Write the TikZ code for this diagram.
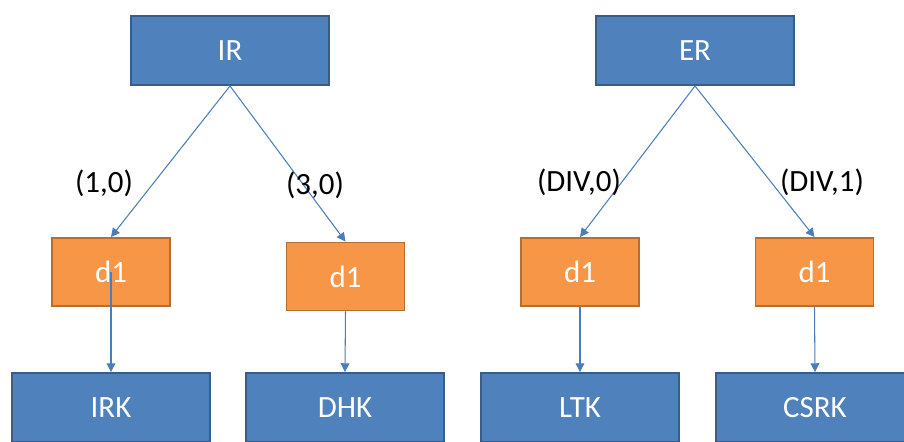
\documentclass[tikz,border=0pt]{standalone}
\usepackage{fontspec}
\setmainfont{Carlito}
\usetikzlibrary{arrows.meta}
\definecolor{keyfill}{HTML}{4F81BD}
\definecolor{keyedge}{HTML}{385D8A}
\definecolor{funcfill}{HTML}{F79646}
\definecolor{funcedge}{HTML}{B66D31}
\definecolor{linkblue}{HTML}{4A7EBB}

\begin{document}
\begin{tikzpicture}[x=0.02cm,y=-0.02cm,
        keybox/.style={draw=keyedge,fill=keyfill,line width=1.1pt,text=white,minimum width=3.96cm,minimum height=1.38cm,font=\fontsize{17.6}{19}\selectfont},
        funcbox/.style={draw=funcedge,fill=funcfill,line width=1.1pt,text=white,minimum width=2.36cm,minimum height=1.36cm,font=\fontsize{17.6}{19}\selectfont},
        link/.style={draw=linkblue,line width=0.6pt,-{Triangle[length=5pt,width=5pt]}},
        tag/.style={font=\fontsize{17.6}{19}\selectfont}]
        \useasboundingbox (0,0) rectangle (904,441);
        \clip (0,0) rectangle (904,441);
        % top row
        \node[keybox] (ir) at (230,50.5) {IR};
        \node[keybox] (er) at (695,50.5) {ER};
        % d1 boxes
        \node[funcbox] (dira) at (111,272) {d1};
        \node[funcbox] (dirb) at (345.5,276.5) {d1};
        \node[funcbox] (dera) at (580,272) {d1};
        \node[funcbox] (derb) at (814.5,272) {d1};
        % bottom row
        \node[keybox] (irk) at (111,407.5) {IRK};
        \node[keybox] (dhk) at (345,407.5) {DHK};
        \node[keybox] (ltk) at (580,407.5) {LTK};
        \node[keybox] (csrk) at (815,407.5) {CSRK};
        % connectors
        \draw[link] (ir.south) -- (dira.north);
        \draw[link] (ir.south) -- (dirb.north);
        \draw[link] (er.south) -- (dera.north);
        \draw[link] (er.south) -- (derb.north);
        \draw[link] (dira.center) -- (irk.north);
        \draw[link] (dirb.south) -- (dhk.north);
        \draw[link] (dera.south) -- (ltk.north);
        \draw[link] (derb.south) -- (csrk.north);
        % labels
        \node[tag] (lone) at (104,183) {(1,0)};
        \node[tag] (lthree) at (315,185) {(3,0)};
        \node[tag] (ldivz) at (579,182) {(DIV,0)};
        \node[tag] (ldivo) at (822,182) {(DIV,1)};
    \end{tikzpicture}
\end{document}
